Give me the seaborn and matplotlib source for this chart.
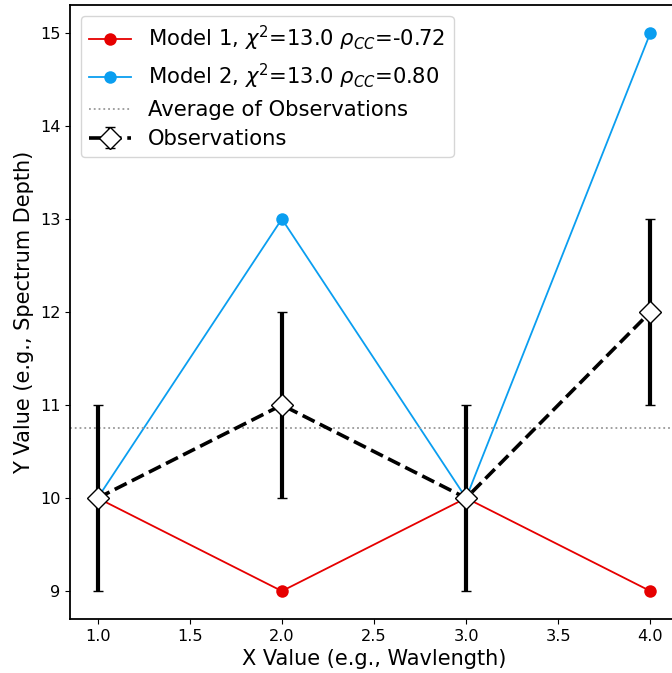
import matplotlib
matplotlib.use("Agg")
import matplotlib.pyplot as plt
import seaborn as sns
import numpy as np
import pandas as pd

x_vals = [1.0, 2.0, 3.0, 4.0]
model1 = [10, 9, 10, 9]
model2 = [10, 13, 10, 15]
observations = [10, 11, 10, 12]
obs_err = [1, 1, 1, 1]
label_m1 = r"Model 1, $\chi^2$=13.0 $\rho_{CC}$=-0.72"
label_m2 = r"Model 2, $\chi^2$=13.0 $\rho_{CC}$=0.80"

plt.rcParams['font.family'] = ['DejaVu Sans']

fig = plt.figure(figsize=(6.72, 6.73), dpi=100)
ax = fig.add_axes([70/672, 54/673, 608/672, 614/673])

df1 = pd.DataFrame({"x": x_vals, "y": model1})
df2 = pd.DataFrame({"x": x_vals, "y": model2})
sns.lineplot(data=df1, x="x", y="y", ax=ax, color="#e60000", marker="o",
             markersize=9, markeredgewidth=0, linewidth=1.3, label=label_m1)
sns.lineplot(data=df2, x="x", y="y", ax=ax, color="#0a9ef0", marker="o",
             markersize=9, markeredgewidth=0, linewidth=1.3, label=label_m2)
ax.axhline(np.mean(observations), color="#999999", linestyle=":", linewidth=1.3,
           label="Average of Observations")
ax.errorbar(x_vals, observations, yerr=obs_err, fmt="D", linestyle="--",
            color="black", linewidth=2.6, elinewidth=3, capsize=3.8, capthick=1.5,
            markersize=11, markerfacecolor="white", markeredgecolor="black",
            markeredgewidth=1.0, label="Observations", zorder=5)

ax.set_xlim(0.85, 4.15)
ax.set_ylim(8.7, 15.3)
ax.set_xticks([1.0, 1.5, 2.0, 2.5, 3.0, 3.5, 4.0])
ax.tick_params(labelsize=11.6)
for s in ax.spines.values():
    s.set_linewidth(1.3)
ax.set_xlabel("X Value (e.g., Wavlength)", fontsize=15)
ax.set_ylabel("Y Value (e.g., Spectrum Depth)", fontsize=15)
ax.legend(loc="upper left", fontsize=15.2, frameon=True, borderaxespad=0.5,
          labelspacing=0.42)

fig.savefig("out.png", dpi=100)
